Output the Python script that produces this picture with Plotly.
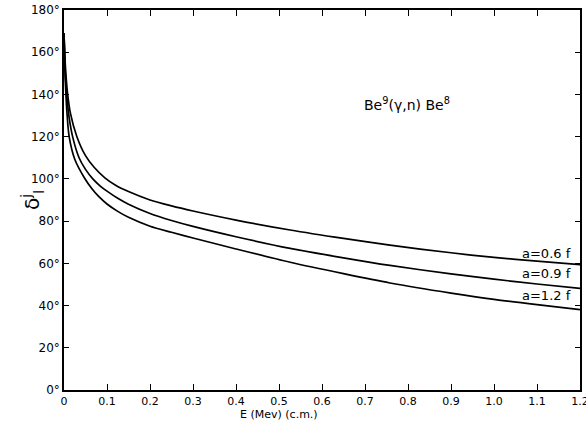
import plotly.graph_objects as go

# Phase shift delta_l^j versus c.m. energy for three nuclear radii a
energy_06 = [0, 0.002, 0.005, 0.008, 0.015, 0.03, 0.05, 0.07, 0.095, 0.12, 0.15, 0.2, 0.25, 0.3, 0.4, 0.526, 0.65, 0.758, 0.9, 1.0, 1.1, 1.2]
delta_06 = [169, 158, 148, 141, 131, 120, 111, 105.5, 100.5, 97, 94, 90, 87.2, 84.8, 80.5, 75.8, 71.8, 68.6, 65.0, 62.8, 61.0, 59.4]

energy_09 = [0, 0.002, 0.004, 0.007, 0.012, 0.02, 0.035, 0.05, 0.067, 0.085, 0.1, 0.125, 0.15, 0.2, 0.25, 0.3, 0.4, 0.526, 0.65, 0.758, 0.9, 1.0, 1.1, 1.2]
delta_09 = [169, 155, 146, 138, 129, 120, 110, 104.5, 100, 96.5, 94.2, 90.8, 88, 83.6, 80.3, 77.5, 72.6, 67.1, 62.6, 59, 55, 52.5, 50.2, 48.1]

energy_12 = [0, 0.002, 0.004, 0.007, 0.012, 0.025, 0.048, 0.065, 0.08, 0.1, 0.125, 0.15, 0.2, 0.25, 0.3, 0.4, 0.526, 0.65, 0.758, 0.9, 1.0, 1.1, 1.2]
delta_12 = [169, 152, 142, 131, 120, 109.3, 100.3, 95.3, 91.8, 88.1, 84.6, 81.8, 77.6, 74.7, 72.0, 66.8, 60.5, 55.1, 50.7, 45.9, 42.9, 40.4, 38.1]

curve_labels = ["a=0.6 f", "a=0.9 f", "a=1.2 f"]
label_y = [64.5, 55, 45]

x_ticks = [0, 0.1, 0.2, 0.3, 0.4, 0.5, 0.6, 0.7, 0.8, 0.9, 1.0, 1.1, 1.2]
x_tick_text = ["0", "0.1", "0.2", "0.3", "0.4", "0.5", "0.6", "0.7", "0.8", "0.9", "1.0", "1.1", "1.2"]
y_ticks = [0, 20, 40, 60, 80, 100, 120, 140, 160, 180]
y_tick_text = [f"{v}°" for v in y_ticks]

font = "DejaVu Sans"

fig = go.Figure()
for xs, ys in [(energy_06, delta_06), (energy_09, delta_09), (energy_12, delta_12)]:
    fig.add_trace(go.Scatter(
        x=xs, y=ys, mode="lines",
        line=dict(color="black", width=1.7, shape="spline", smoothing=0.8),
        showlegend=False, hoverinfo="skip",
    ))

for text, yv in zip(curve_labels, label_y):
    fig.add_annotation(
        x=1.183, y=yv, text=text, showarrow=False,
        xanchor="right", yanchor="middle",
        font=dict(family=font, size=13, color="black"),
    )

fig.add_annotation(
    x=0.693, y=135.5, text="Be<sup>9</sup>(γ,n) Be<sup>8</sup>", showarrow=False,
    xanchor="left", yanchor="middle",
    font=dict(family=font, size=14, color="black"),
)

# y-axis symbol placed in the gap between tick labels
fig.add_annotation(
    xref="paper", yref="y", x=-0.062, y=90,
    text="δ<sup>j</sup><sub>l</sub>", showarrow=False, textangle=-90,
    xanchor="center", yanchor="middle",
    font=dict(family=font, size=20, color="black"),
)

# x-axis title just below the tick labels
fig.add_annotation(
    xref="x", yref="paper", x=0.5, y=-0.064,
    text="E (Mev) (c.m.)", showarrow=False,
    xanchor="center", yanchor="middle",
    font=dict(family=font, size=11, color="black"),
)

axis_common = dict(
    showline=True, linecolor="black", linewidth=1.5, mirror="ticks",
    ticks="inside", tickcolor="black", tickwidth=1.2,
    showgrid=False, zeroline=False, automargin=False,
)

fig.update_xaxes(
    range=[0, 1.2], tickvals=x_ticks, ticktext=x_tick_text, ticklen=6,
    ticklabeloverflow="allow", ticklabelstandoff=0,
    tickfont=dict(family=font, size=11, color="black"),
    **axis_common,
)
fig.update_yaxes(
    range=[0, 180], tickvals=y_ticks, ticktext=y_tick_text, ticklen=5,
    ticklabeloverflow="allow",
    tickfont=dict(family=font, size=12, color="black"),
    **axis_common,
)

fig.update_layout(
    width=586, height=421,
    margin=dict(l=64, r=6, t=10, b=31),
    paper_bgcolor="white", plot_bgcolor="white",
)

fig.write_html("out.html")
